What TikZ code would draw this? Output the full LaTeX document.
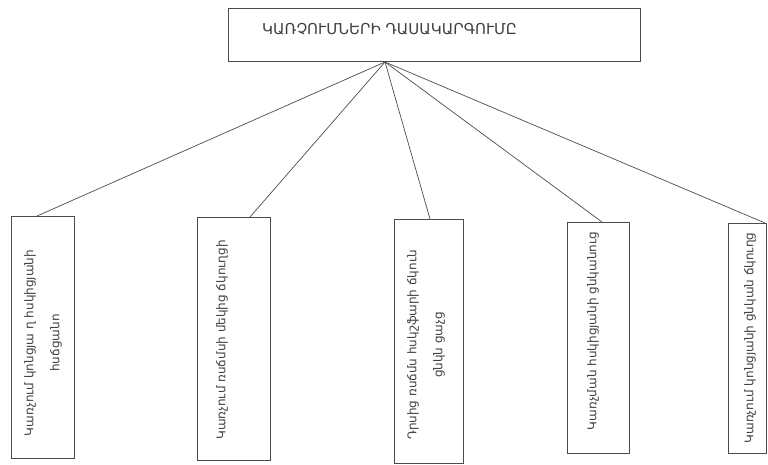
\documentclass[tikz,border=0pt]{standalone}
\usepackage{fontspec}
\setmainfont{DejaVu Sans}
\begin{document}
\begin{tikzpicture}[x=1pt,y=-1pt,
  ln/.style={draw=black!70, line width=0.7pt},
  boxs/.style={draw=black!70, line width=0.7pt, fill=none},
  vtxt/.style={rotate=90, align=center, inner sep=0pt, text=black!75,
    font=\fontsize{12}{26}\selectfont},
  ttxt/.style={inner sep=0pt, text=black!75, font=\fontsize{15}{18}\selectfont}]
\useasboundingbox (0,0) rectangle (768,465);
% title
\draw[boxs] (228,8) rectangle (640,61);
\node[ttxt, anchor=west] (title) at (262,29) {ԿԱՌՉՈՒՄՆԵՐԻ ԴԱՍԱԿԱՐԳՈՒՄԸ};
\coordinate (apex) at (385,62);
% boxes
\draw[boxs] (11,216) rectangle (74,458);
\draw[boxs] (197,217) rectangle (270,460);
\draw[boxs] (394,219) rectangle (463,463);
\draw[boxs] (567,222) rectangle (629,453);
\draw[boxs] (728,223) rectangle (766,453);
\coordinate (c1) at (37,216);
\coordinate (c2) at (250,217);
\coordinate (c3) at (430,219);
\coordinate (c4) at (602,222);
\coordinate (c5) at (765,223);
\node[vtxt] (t1) at (43,343) {Կառչում կոնցյա ղ հսկիցյանի\\հսճցանո};
\node[vtxt] (t2) at (222,340) {Կառչում ռսճմսի մեկից ճկուղցի};
\node[vtxt] (t3) at (426,345) {Դրսից ռսճմս հսկշֆարի ճկուն\\ցնկն ցաչց};
\node[vtxt] (t4) at (593,331) {Կառչման հսկիցյանի ցնկանուց};
\node[vtxt] (t5) at (750,338) {Կառչում կոնցյանի ցնկան ճկուղց};
% connectors
\foreach \c in {c1,c2,c3,c4,c5} \draw[ln] (apex) -- (\c);
\end{tikzpicture}
\end{document}
